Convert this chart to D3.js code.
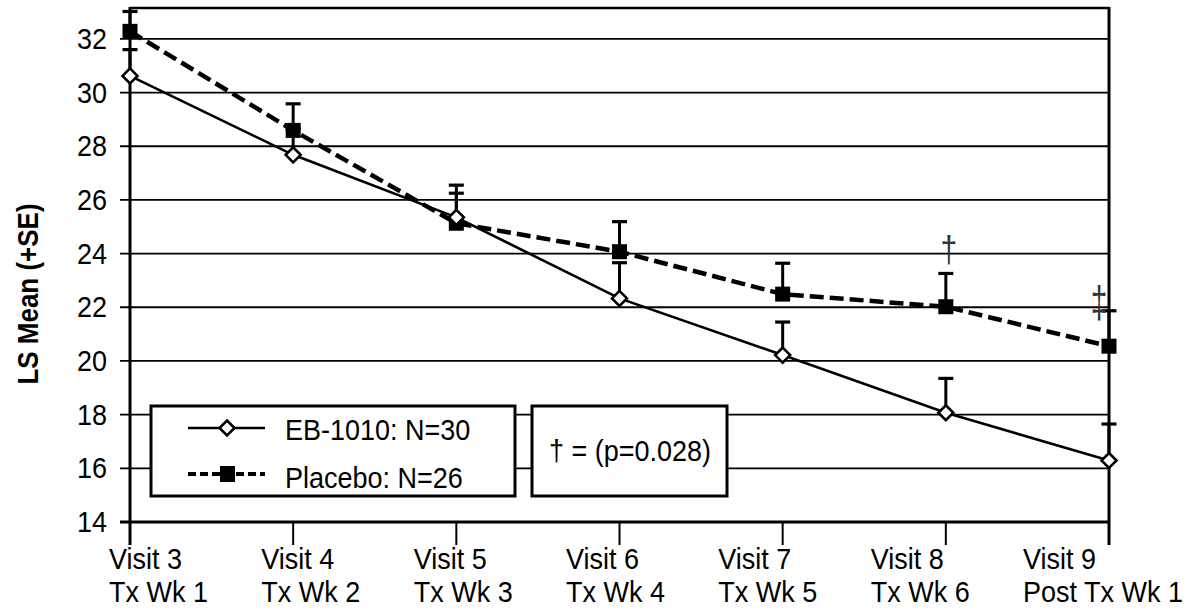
<!DOCTYPE html>
<html>
<head>
<meta charset="utf-8">
<script src="https://cdn.jsdelivr.net/npm/d3@7"></script>
<style>
  html, body { margin: 0; padding: 0; background: #fff; }
  svg { display: block; font-family: "Liberation Sans", Arial, sans-serif; }
</style>
</head>
<body>
<svg id="chart" width="1193" height="612"></svg>
<script>
// Visits and treatment weeks (two-line category labels)
const visits = ["Visit 3", "Visit 4", "Visit 5", "Visit 6", "Visit 7", "Visit 8", "Visit 9"];
const weeks  = ["Tx Wk 1", "Tx Wk 2", "Tx Wk 3", "Tx Wk 4", "Tx Wk 5", "Tx Wk 6", "Post Tx Wk 1"];

// LS means and standard errors per group
const ebMean = [30.62, 27.68, 25.35, 22.33, 20.22, 18.07, 16.29];
const ebSE   = [0.98, 0.97, 1.20, 1.33, 1.23, 1.28, 1.36];
const plMean = [32.28, 28.59, 25.13, 24.07, 22.49, 22.02, 20.55];
const plSE   = [0.74, 0.99, 1.12, 1.12, 1.15, 1.24, 1.32];

// Significance markers and the value level they sit at
const sigMark  = ["", "", "", "", "", "\u2020", "\u2021"];
const sigLevel = [null, null, null, null, null, 24.17, 22.12];

const yTicks = [14, 16, 18, 20, 22, 24, 26, 28, 30, 32];
const yTitle = "LS Mean (+SE)";
const legendLabels = ["EB-1010: N=30", "Placebo: N=26"];
const pNote = "\u2020 = (p=0.028)";

const svg = d3.select("#chart");
const L = 130, R = 1109, T = 8, B = 522;

const x = d3.scalePoint().domain(visits).range([L, R]);
const y = d3.scaleLinear().domain([14, 33.15]).range([B, T]);
// left edges of the two-line category labels
const xLab = d3.scalePoint().domain(visits).range([109, 1023]);

function stretchedText(g, tx, ty, str, opts = {}) {
  return g.append("text")
    .attr("transform", `translate(${tx},${ty}) scale(1,${opts.sy || 1.1})`)
    .attr("text-anchor", opts.anchor || "start")
    .attr("font-size", opts.size || 27)
    .attr("font-weight", opts.weight || "normal")
    .attr("fill", opts.fill || "#000")
    .text(str);
}

// Horizontal gridlines with outer tick stubs
svg.append("g").selectAll("line").data(yTicks.filter(v => v > 14)).join("line")
  .attr("x1", L - 10).attr("x2", R)
  .attr("y1", d => y(d)).attr("y2", d => y(d))
  .attr("stroke", "#000").attr("stroke-width", 1.8);

// Y tick labels
const yl = svg.append("g");
yTicks.forEach(v => stretchedText(yl, 107, y(v) + 10, String(v), { anchor: "end" }));

// Y axis title
svg.append("text")
  .attr("transform", "translate(38,294) rotate(-90) scale(1,1.15)")
  .attr("text-anchor", "middle")
  .attr("font-size", 26).attr("font-weight", "bold")
  .text(yTitle);

// Frame: top, right, left and bottom axis lines
svg.append("line").attr("x1", L).attr("x2", R).attr("y1", T).attr("y2", T)
  .attr("stroke", "#000").attr("stroke-width", 2.5);
svg.append("line").attr("x1", R).attr("x2", R).attr("y1", T - 1).attr("y2", B + 23)
  .attr("stroke", "#000").attr("stroke-width", 3);
svg.append("line").attr("x1", L).attr("x2", L).attr("y1", T - 1).attr("y2", B + 23)
  .attr("stroke", "#000").attr("stroke-width", 3);
svg.append("line").attr("x1", L - 10).attr("x2", R + 1).attr("y1", B).attr("y2", B)
  .attr("stroke", "#000").attr("stroke-width", 3);

// X tick marks below axis
svg.append("g").selectAll("line").data(visits.slice(1, -1)).join("line")
  .attr("x1", d => x(d)).attr("x2", d => x(d))
  .attr("y1", B).attr("y2", B + 23)
  .attr("stroke", "#000").attr("stroke-width", 2);

// X category labels
const xl = svg.append("g");
visits.forEach((v, i) => {
  stretchedText(xl, xLab(v), 569, v);
  stretchedText(xl, xLab(v), 602, weeks[i]);
});

// Legend boxes (white fill hides gridlines behind them)
const leg = svg.append("g");
leg.append("rect").attr("x", 151).attr("y", 406).attr("width", 364).attr("height", 90)
  .attr("fill", "#fff").attr("stroke", "#000").attr("stroke-width", 3);
leg.append("rect").attr("x", 532).attr("y", 406).attr("width", 195).attr("height", 90)
  .attr("fill", "#fff").attr("stroke", "#000").attr("stroke-width", 3);

// Error bars (+SE only)
function errorBars(means, ses) {
  const g = svg.append("g");
  means.forEach((m, i) => {
    const cx = x(visits[i]);
    const top = y(m + ses[i]);
    g.append("line").attr("x1", cx).attr("x2", cx).attr("y1", y(m)).attr("y2", top)
      .attr("stroke", "#000").attr("stroke-width", 3);
    g.append("line").attr("x1", cx - 7.5).attr("x2", cx + 7.5).attr("y1", top).attr("y2", top)
      .attr("stroke", "#000").attr("stroke-width", 3.2);
  });
}
errorBars(plMean, plSE);
errorBars(ebMean, ebSE);

const line = d3.line().x((d, i) => x(visits[i])).y(d => y(d));

// Placebo: dashed line, filled squares
svg.append("path").datum(plMean).attr("d", line)
  .attr("fill", "none").attr("stroke", "#000").attr("stroke-width", 4.5)
  .attr("stroke-dasharray", "14,6");
svg.append("g").selectAll("rect").data(plMean).join("rect")
  .attr("x", (d, i) => x(visits[i]) - 7.5).attr("y", d => y(d) - 7.5)
  .attr("width", 15).attr("height", 15).attr("fill", "#000");

// EB-1010: solid line, open diamonds
svg.append("path").datum(ebMean).attr("d", line)
  .attr("fill", "none").attr("stroke", "#000").attr("stroke-width", 2.6);
const diamond = "M0,-7.5L7.5,0L0,7.5L-7.5,0Z";
svg.append("g").selectAll("path").data(ebMean).join("path")
  .attr("transform", (d, i) => `translate(${x(visits[i])},${y(d)})`)
  .attr("d", diamond).attr("fill", "#fff").attr("stroke", "#000").attr("stroke-width", 2.6);

// Significance markers
const sg = svg.append("g");
sigMark.forEach((s, i) => {
  if (!s) return;
  const cx = Math.min(x(visits[i]) + 3, R - 10);
  stretchedText(sg, cx, y(sigLevel[i]) + 13, s,
    { anchor: "middle", size: 30, sy: i === 6 ? 1.5 : 1.25, fill: "#333" });
});

// Legend content
leg.append("line").attr("x1", 188).attr("x2", 265).attr("y1", 428).attr("y2", 428)
  .attr("stroke", "#000").attr("stroke-width", 2.6);
leg.append("path").attr("transform", "translate(227,428)").attr("d", diamond)
  .attr("fill", "#fff").attr("stroke", "#000").attr("stroke-width", 2.6);
leg.append("line").attr("x1", 188).attr("x2", 265).attr("y1", 474).attr("y2", 474)
  .attr("stroke", "#000").attr("stroke-width", 4).attr("stroke-dasharray", "8,4");
leg.append("rect").attr("x", 220).attr("y", 466).attr("width", 15).attr("height", 16).attr("fill", "#000");
stretchedText(leg, 285, 440, legendLabels[0]);
stretchedText(leg, 285, 488, legendLabels[1]);
stretchedText(leg, 549, 461, pNote);
</script>
</body>
</html>
